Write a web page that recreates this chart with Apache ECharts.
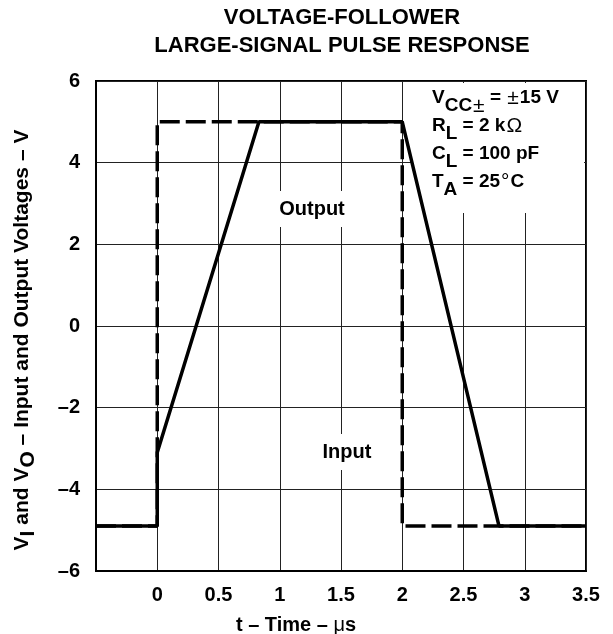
<!DOCTYPE html>
<html>
<head>
<meta charset="utf-8">
<script src="https://cdn.jsdelivr.net/npm/echarts@6/dist/echarts.min.js"></script>
<style>
  html, body { margin: 0; padding: 0; background: #fff; }
  #chart { width: 613px; height: 634px; }
</style>
</head>
<body>
<div id="chart"></div>
<script>
// input pulse (dashed) and follower output (solid), volts vs microseconds
const inputTimes = [-0.5, 0, 0, 2, 2, 3.5]
const inputVolts = [-4.9, -4.9, 5, 5, -4.9, -4.9]
const outputTimes = [-0.5, 0, 0, 0.83, 2, 2.79, 3.5]
const outputVolts = [-4.9, -4.9, -3.1, 5, 5, -4.9, -4.9]
const conditionLines = [
  '{n|V}{s|CC}{ts|±}{n| = }{t|±}{n|15 V}',
  '{n|R}{s|L}{n| = 2 k}{t|Ω}',
  '{n|C}{s|L}{n| = 100 pF}',
  '{n|T}{s|A}{n| = 25}{t|°}{n|C}'
]

const FONT = "'Liberation Sans', Arial, sans-serif"

function pairs(xs, ys) {
  return xs.map((x, i) => [x, ys[i]])
}

function dashLabel(v) {
  return String(v).replace('-', '–')
}

// normal tokens sit high, subscript tokens low; both boxes the same height
function subRich(size, drop) {
  const base = { fontFamily: FONT, fontSize: size, color: '#000', lineHeight: size + 2 }
  return {
    n: { ...base, fontWeight: 'bold', padding: [0, 0, drop, 0] },
    t: { ...base, fontWeight: 'normal', fontSize: size + 2, padding: [0, 1, drop, 1] },
    s: { ...base, fontWeight: 'bold', padding: [drop, 0, 0, 0] },
    ts: { ...base, fontWeight: 'normal', fontSize: size + 2, padding: [drop, 0, 0, 1] }
  }
}

const chart = echarts.init(document.querySelector('#chart'))

chart.setOption({
  animation: false,
  grid: {
    left: 96, right: 27, top: 81, bottom: 63,
    show: true, borderColor: '#000', borderWidth: 2
  },
  xAxis: {
    type: 'value',
    min: -0.5, max: 3.5, interval: 0.5,
    axisLine: { show: true, onZero: false, lineStyle: { color: '#000', width: 2 } },
    axisTick: { show: false },
    axisLabel: {
      margin: 14,
      fontFamily: FONT, fontWeight: 'bold', fontSize: 20, color: '#000',
      formatter: v => v < 0 ? '' : String(v)
    },
    splitLine: { show: true, lineStyle: { color: '#222', width: 1 } }
  },
  yAxis: {
    type: 'value',
    min: -6, max: 6, interval: 2,
    axisLine: { show: true, onZero: false, lineStyle: { color: '#000', width: 2 } },
    axisTick: { show: false },
    axisLabel: {
      margin: 16,
      padding: [8, 0, 0, 0],
      fontFamily: FONT, fontWeight: 'bold', fontSize: 20, color: '#000',
      formatter: dashLabel
    },
    splitLine: { show: true, lineStyle: { color: '#222', width: 1 } }
  },
  graphic: [
    { type: 'text', x: 342, y: 18, z: 10,
      style: { text: 'VOLTAGE-FOLLOWER', font: "bold 22px 'Liberation Sans', Arial", fill: '#000',
        align: 'center', verticalAlign: 'middle' } },
    { type: 'text', x: 342, y: 46, z: 10,
      style: { text: 'LARGE-SIGNAL PULSE RESPONSE', font: "bold 22px 'Liberation Sans', Arial", fill: '#000',
        align: 'center', verticalAlign: 'middle' } },
    // axis titles
    { type: 'text', x: 296, y: 625, z: 10,
      style: { text: '{n|t – Time – }{m|μ}{n|s}', align: 'center', verticalAlign: 'middle',
        rich: {
          n: { fontFamily: FONT, fontWeight: 'bold', fontSize: 20, color: '#000' },
          m: { fontFamily: FONT, fontWeight: 'normal', fontSize: 20, color: '#000' }
        } } },
    { type: 'text', x: 25, y: 340, rotation: Math.PI / 2, z: 10,
      style: { text: '{n|V}{s|I}{n| and V}{s|O}{n| – Input and Output Voltages – V}',
        align: 'center', verticalAlign: 'middle', rich: subRich(21, 6) } },
    // white panel holding the conditions
    { type: 'rect', shape: { x: 413, y: 83, width: 171, height: 130 }, z: 1,
      style: { fill: '#fff' } },
    ...conditionLines.map((line, i) => ({
      type: 'text', x: 432, y: 102 + i * 28, z: 10,
      style: { text: line, verticalAlign: 'middle', rich: subRich(19, 8) }
    })),
    { type: 'text', x: 312, y: 209, z: 10,
      style: { text: 'Output', font: "bold 20px 'Liberation Sans', Arial", fill: '#000',
        align: 'center', verticalAlign: 'middle', backgroundColor: '#fff', padding: [8, 3] } },
    { type: 'text', x: 347, y: 452, z: 10,
      style: { text: 'Input', font: "bold 20px 'Liberation Sans', Arial", fill: '#000',
        align: 'center', verticalAlign: 'middle', backgroundColor: '#fff', padding: [8, 3] } }
  ],
  series: [
    {
      name: 'Output', type: 'line', z: 3,
      data: pairs(outputTimes, outputVolts),
      symbol: 'none',
      lineStyle: { color: '#000', width: 3.5 }
    },
    {
      name: 'Input', type: 'line', z: 4,
      data: pairs(inputTimes, inputVolts),
      symbol: 'none',
      lineStyle: { color: '#000', width: 3.5, type: [20, 6] }
    }
  ]
})
</script>
</body>
</html>
